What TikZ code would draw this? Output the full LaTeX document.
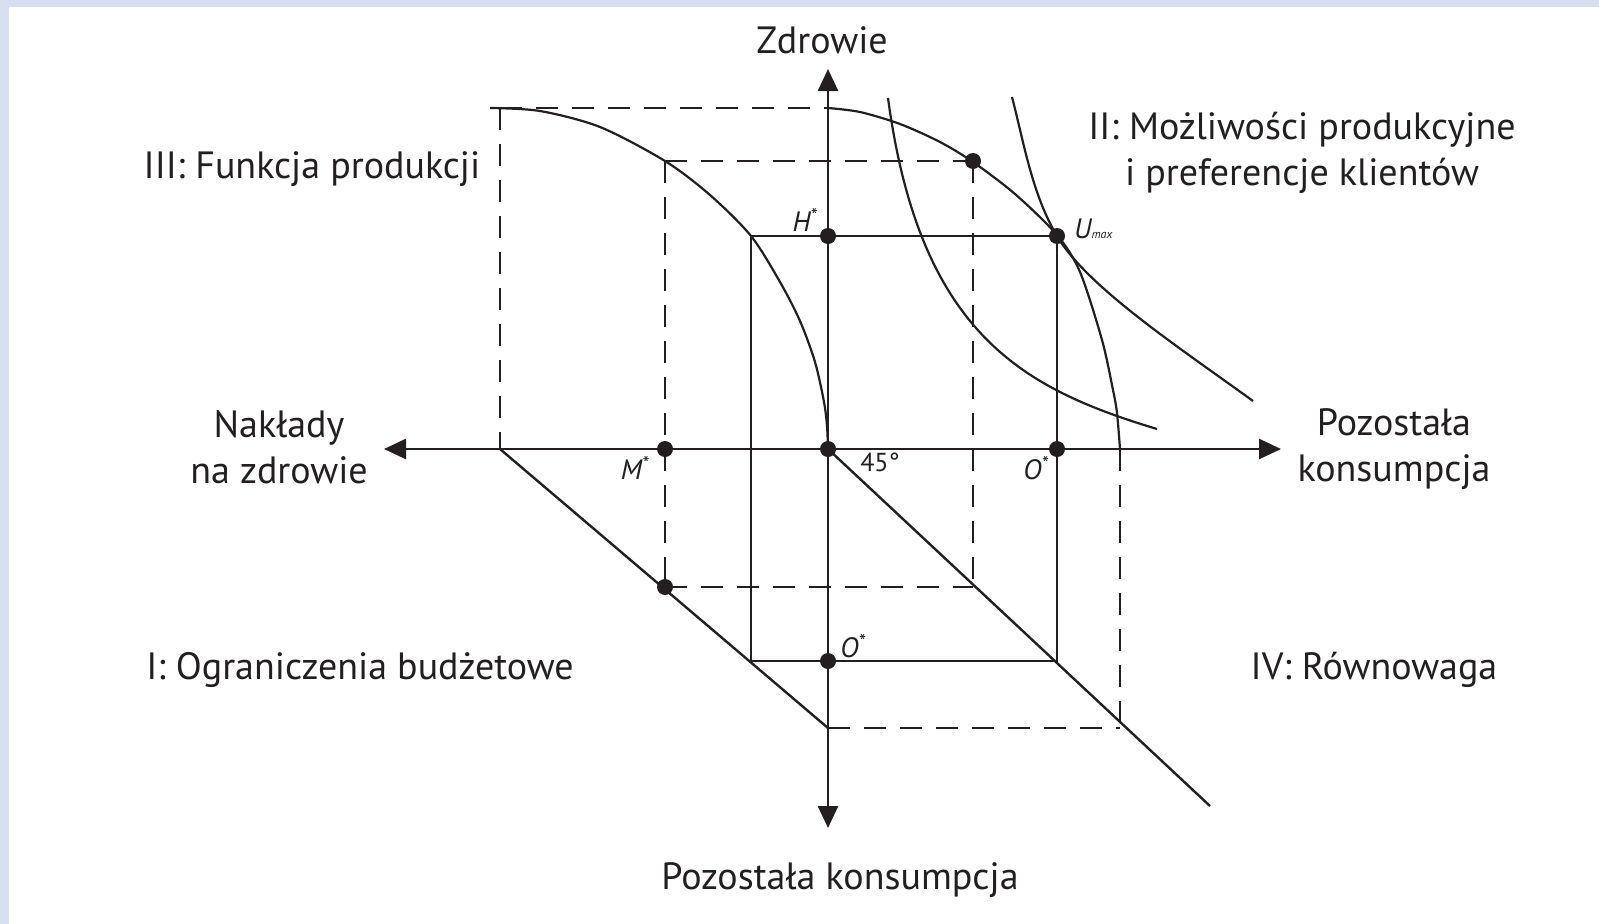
\documentclass[tikz,border=0pt]{standalone}
\usepackage{fontspec}
\setmainfont{PT Sans}
\usetikzlibrary{arrows.meta}
\definecolor{ink}{HTML}{231F20}
\definecolor{framecol}{HTML}{D6DFF2}
\begin{document}
\begin{tikzpicture}[x=1pt,y=-1pt,
  axisln/.style={line width=2.6pt, draw=ink, -{Triangle[length=22pt,width=20pt]}},
  solidln/.style={line width=2.4pt, draw=ink},
  dashln/.style={line width=2.4pt, draw=ink, dash pattern=on 22pt off 14pt},
  curveln/.style={line width=2.2pt, draw=ink},
  dotmark/.style={circle, fill=ink, inner sep=0pt, minimum size=16pt},
  lbl/.style={text=ink, font=\fontsize{38}{46}\selectfont, align=center, inner sep=0pt},
  smalllbl/.style={text=ink, font=\fontsize{28}{30}\selectfont\itshape, inner sep=0pt}]
% frame
\fill[framecol] (0,0) rectangle (1599,924);
\fill[white] (9,7) rectangle (1599,924);
\useasboundingbox (0,0) rectangle (1599,924);
% key coordinates
\coordinate (O) at (828,449);
\coordinate (ytop) at (828,69);
\coordinate (ybot) at (828,828);
\coordinate (xleft) at (384,449);
\coordinate (xright) at (1281,449);
% outer dashed
\coordinate (oTL) at (500,108);
\coordinate (oTR) at (828,108);
\coordinate (oL) at (500,449);
\coordinate (oBL) at (828,728);
\coordinate (oBR) at (1120,728);
\coordinate (oR) at (1120,449);
% inner dashed
\coordinate (iTL) at (665,161);
\coordinate (iTR) at (973,161);
\coordinate (iBL) at (665,587);
\coordinate (iBR) at (973,587);
% solid rectangle
\coordinate (sTL) at (751,236);
\coordinate (sTR) at (1057,236);
\coordinate (sBL) at (751,661);
\coordinate (sBR) at (1057,661);
% 45 line end
\coordinate (dEnd) at (1210,806);
% indifference curve ends
\coordinate (aS) at (888,98);
\coordinate (aE) at (1157,429);
\coordinate (bS) at (1012,97);
\coordinate (bE) at (1253,401);

% dashed lines
\draw[dashln] (oTL) -- (oTR);
\draw[dashln] (oTL) -- (oL);
\draw[dashln] (oBL) -- (oBR);
\draw[dashln] (oR) -- (oBR);
\draw[dashln] (iTL) -- (iTR);
\draw[dashln] (iTL) -- (iBL);
\draw[dashln] (iBL) -- (iBR);
\draw[dashln] (iTR) -- (iBR);
% solid rectangle
\draw[solidln] (sTL) -- (sTR) -- (sBR) -- (sBL) -- cycle;
% budget line and 45 degree line
\draw[solidln] (oL) -- (oBL);
\draw[solidln] (O) -- (dEnd);
% curve III (production function)
\draw[curveln] plot[smooth] coordinates {(490,108) (540,111) (600,127) (665,161) (710,195) (751,236) (780,282) (800,321) (815,362) (824,402) (827,426) (828,449)};
% curve II (production possibilities)
\draw[curveln] plot[smooth] coordinates {(828,108) (860,112) (900,124) (940,142) (973,162) (1015,194) (1057,235) (1080,272) (1102,340) (1113,390) (1117,413) (1120,449)};
% indifference curve A
\draw[curveln] (aS) .. controls (920,336) and (1025,389) .. (aE);
% indifference curve B (through U max)
\draw[curveln] (bS) .. controls (1024,143) and (1032,194) .. (sTR)
  .. controls (1087,287) and (1180,348) .. (bE);
% axes
\draw[axisln] (O) -- (ytop);
\draw[axisln] (O) -- (ybot);
\draw[axisln] (O) -- (xleft);
\draw[axisln] (O) -- (xright);
% dots
\node[dotmark] (dH) at (828,236) {};
\node[dotmark] (dU) at (1057,236) {};
\node[dotmark] (dOr) at (1057,449) {};
\node[dotmark] (dM) at (665,449) {};
\node[dotmark] (dO) at (828,449) {};
\node[dotmark] (dOl) at (828,661) {};
\node[dotmark] (dB) at (665,587) {};
\node[dotmark] (dP) at (973,161) {};
% big labels
\node[lbl] (tZ) at (822,40) {Zdrowie};
\node[lbl] (tII) at (1302,153) {II: Możliwości produkcyjne\\i preferencje klientów};
\node[lbl] (tIII) at (312,169) {III: Funkcja produkcji};
\node[lbl] (tN) at (279,447) {Nakłady\\na zdrowie};
\node[lbl] (tP) at (1394,449) {Pozostała\\konsumpcja};
\node[lbl] (tI) at (360,670) {I: Ograniczenia budżetowe};
\node[lbl] (tIV) at (1374,670) {IV: Równowaga};
\node[lbl] (tPb) at (840,880) {Pozostała konsumpcja};
% small labels
\node[smalllbl] (lH) at (805,220) {H\textsuperscript{*}};
\node[smalllbl, anchor=west] (lU) at (1074,229) {U\fontsize{12}{12}\selectfont max};
\node[smalllbl] (lM) at (635,468) {M\textsuperscript{*}};
\node[smalllbl] (lOr) at (1036,468) {O\textsuperscript{*}};
\node[smalllbl] (lOl) at (853,646) {O\textsuperscript{*}};
\node[text=ink, font=\fontsize{26}{28}\selectfont, inner sep=0pt] (l45) at (880,462) {45°};
\end{tikzpicture}
\end{document}
